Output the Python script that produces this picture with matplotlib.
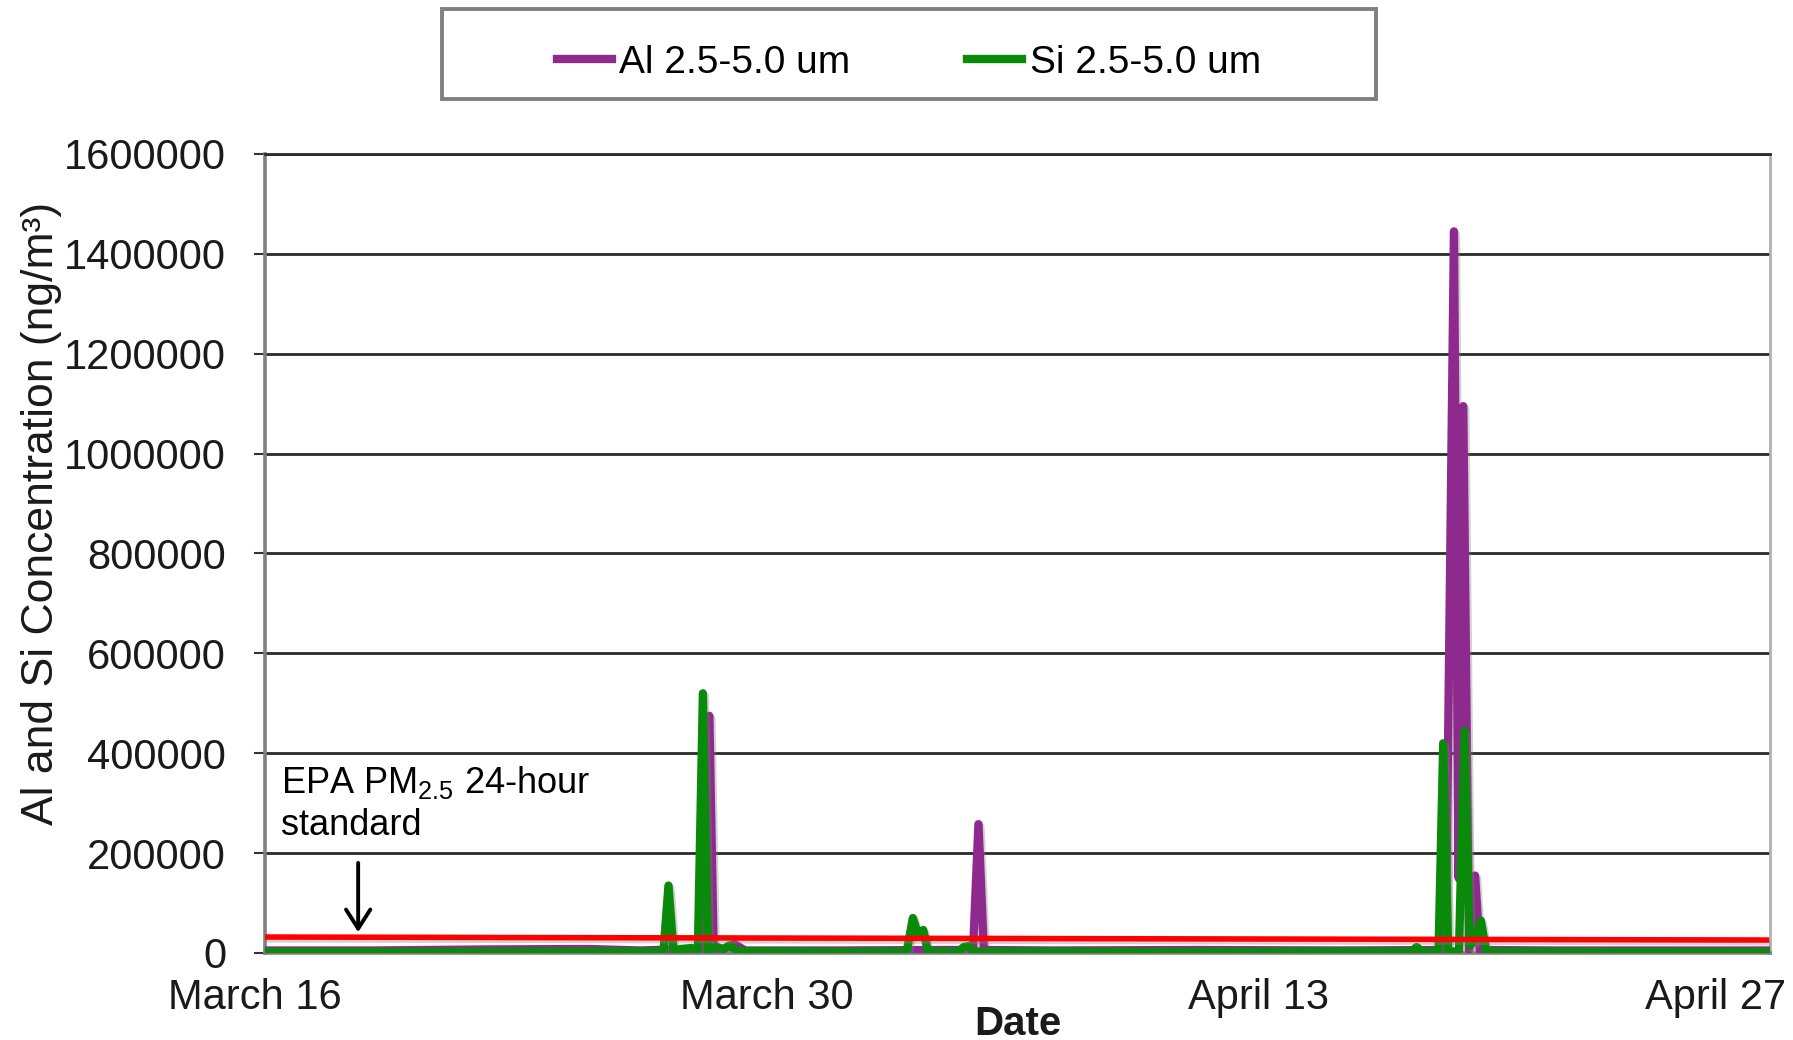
import matplotlib
matplotlib.use('Agg')
import matplotlib.pyplot as plt
from matplotlib.patches import Rectangle
from matplotlib.lines import Line2D
import matplotlib.patheffects as pe
import matplotlib.transforms as mtransforms

plt.rcParams['font.family'] = ['Liberation Sans', 'DejaVu Sans']
plt.rcParams['mathtext.fontset'] = 'custom'
plt.rcParams['mathtext.rm'] = 'Liberation Sans'
plt.rcParams['mathtext.it'] = 'Liberation Sans:italic'

# ---------------- data ----------------
x_tick_days = [0, 14, 28, 42]
x_tick_labels = ['March 16', 'March 30', 'April 13', 'April 27']
y_ticks = [0, 200000, 400000, 600000, 800000, 1000000, 1200000, 1400000, 1600000]

# days since March 16
al_days = [0, 3, 6, 9, 10.5, 11.26, 12.0, 12.28, 12.40, 12.52,
           12.8, 13.1, 13.4, 16, 19.0, 19.76, 19.91, 20.06, 22, 26,
           30, 32.95, 33.18, 33.31, 33.44, 33.60, 33.77, 33.90, 36, 40,
           42]
al_vals = [5000, 5000, 7000, 8000, 5000, 7000, 6000, 6000, 475000, 6000,
           8000, 18000, 5000, 5000, 6000, 6000, 258000, 6000, 5000, 6000,
           5000, 6000, 1445000, 150000, 1095000, 6000, 155000, 6000, 5000, 5000,
           5000]

si_days = [0, 5, 10, 11.12, 11.26, 11.40, 11.6, 11.9, 12.08, 12.22,
           12.36, 12.6, 12.8, 12.95, 13.2, 16, 17.91, 18.08, 18.22, 18.37,
           18.50, 19.35, 19.5, 19.65, 19.75, 25, 32.0, 32.14, 32.3, 32.75,
           32.88, 33.02, 33.32, 33.47, 33.62, 33.75, 33.93, 34.08, 38, 42]
si_vals = [2000, 2000, 3000, 3000, 135000, 3000, 8000, 10000, 5000, 520000,
           5000, 12000, 8000, 15000, 4000, 2000, 3000, 70000, 38000, 46000,
           3000, 3000, 12000, 14000, 3000, 2000, 3000, 12000, 3000, 3000,
           420000, 3000, 3000, 445000, 15000, 25000, 65000, 3000, 2000, 2000]

epa_days = [0, 41.9]
epa_vals = [32000, 26000]

series_labels = ['Al 2.5-5.0 um', 'Si 2.5-5.0 um']
purple = '#8E2A8E'
green = '#0A8A0A'
red = '#FF0000'

# ---------------- figure ----------------
W, H = 1793, 1040
fig = plt.figure(figsize=(W / 100, H / 100), dpi=100)
ax = fig.add_axes([265 / W, 1 - 953 / H, (1770 - 265) / W, (953 - 154) / H])

shadow = [pe.SimpleLineShadow(offset=(1.5, -2), shadow_color='gray', alpha=0.35), pe.Normal()]

ax.plot(al_days, al_vals, color=purple, lw=6.0, solid_joinstyle='round',
        solid_capstyle='round', zorder=3, path_effects=shadow)
ax.plot(si_days, si_vals, color=green, lw=6.0, solid_joinstyle='round',
        solid_capstyle='round', zorder=4, path_effects=shadow)
ax.plot(epa_days, epa_vals, color=red, lw=4.0, zorder=5, path_effects=shadow)

ax.set_xlim(0, 42)
ax.set_ylim(0, 1600000)
ax.set_yticks(y_ticks)
ax.set_yticklabels([str(v) for v in y_ticks], fontsize=30, color='#1a1a1a')
ax.set_xticks(x_tick_days)
ax.set_xticklabels(x_tick_labels, fontsize=30, color='#1a1a1a')

ax.yaxis.grid(True, color='#2a2a2a', lw=2.0)
ax.set_axisbelow(True)
ax.tick_params(axis='y', direction='out', length=8, width=1.5, color='#333333', pad=20)
ax.tick_params(axis='x', length=0, pad=18)

for s in ['left', 'bottom']:
    ax.spines[s].set_color('#7f7f7f')
    ax.spines[s].set_linewidth(2.6)
ax.spines['right'].set_color('#b0b0b0')
ax.spines['right'].set_linewidth(2)
ax.spines['top'].set_color('#2a2a2a')
ax.spines['top'].set_linewidth(2.0)

# last tick label pulled inside the figure
lbls = ax.get_xticklabels()
lbls[-1].set_horizontalalignment('right')
lbls[-1].set_transform(lbls[-1].get_transform() +
                       mtransforms.ScaledTranslation(0.16, 0, fig.dpi_scale_trans))
for lb in lbls[:1] + lbls[2:3]:
    lb.set_transform(lb.get_transform() +
                     mtransforms.ScaledTranslation(-0.10, 0, fig.dpi_scale_trans))

# annotation
ax.text(0.45, 300000, 'EPA PM$_{\\mathrm{2.5}}$ 24-hour\nstandard', fontsize=26,
        ha='left', va='center', linespacing=1.25, zorder=6)
ax.annotate('', xy=(2.6, 36000), xytext=(2.6, 186000),
            arrowprops=dict(arrowstyle='->,head_length=0.55,head_width=0.35',
                            lw=2.8, color='black', mutation_scale=25), zorder=6)

# axis titles
fig.text(42 / W, 1 - 513 / H, 'Al and Si Concentration (ng/m³)', rotation=90,
         ha='center', va='center', fontsize=32, color='#1a1a1a')
fig.text(1018 / W, 1 - 1024 / H, 'Date', ha='center', va='center',
         fontsize=29, fontweight='bold', color='#1a1a1a')

# legend
handles = [Line2D([], [], color=purple, lw=6), Line2D([], [], color=green, lw=6)]
fig.legend(handles, series_labels, ncol=2, frameon=False, loc='center',
           bbox_to_anchor=(909 / W, 1 - 63 / H), fontsize=28, handlelength=1.4,
           handletextpad=0.2, columnspacing=3.0)
fig.patches.append(Rectangle((442 / W, 1 - 99 / H), (1376 - 442) / W, 90 / H,
                             transform=fig.transFigure, fill=False,
                             ec='#808080', lw=2.8))

fig.savefig('out.png', dpi=100)
